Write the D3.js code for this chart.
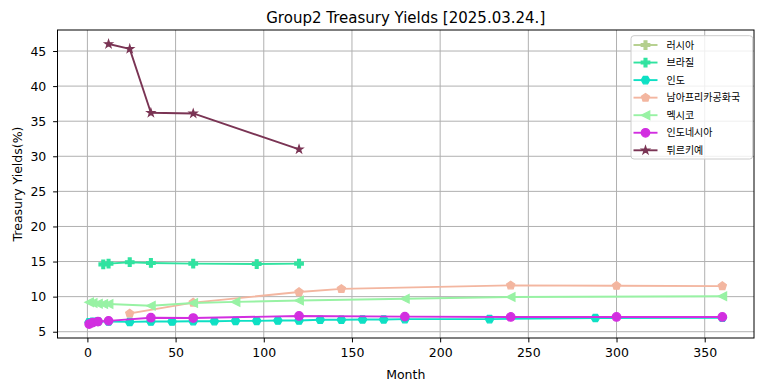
<!DOCTYPE html>
<html>
<head>
<meta charset="utf-8">
<script src="https://cdn.jsdelivr.net/npm/d3@7/dist/d3.min.js"></script>
<style>
  html, body { margin: 0; padding: 0; background: #fff; }
  svg { display: block; }
  text { font-family: "DejaVu Sans", "Noto Sans CJK KR", sans-serif; fill: #000; }
</style>
</head>
<body>
<svg id="chart" width="764" height="391"></svg>
<script>
// ---------------- DATA ----------------
const chartTitle = "Group2 Treasury Yields [2025.03.24.]";
const xLabel = "Month";
const yLabel = "Treasury Yields(%)";

const xTicks = [0, 50, 100, 150, 200, 250, 300, 350];
const yTicks = [5, 10, 15, 20, 25, 30, 35, 40, 45];

const seriesNames = ["러시아", "브라질", "인도", "남아프리카공화국", "멕시코", "인도네시아", "튀르키예"];

const russiaMonths = [];
const russiaYields = [];

const brazilMonths = [9, 12, 24, 36, 60, 96, 120];
const brazilYields = [14.6, 14.7, 14.9, 14.8, 14.7, 14.65, 14.7];

const indiaMonths = [1, 3, 6, 12, 24, 36, 48, 60, 72, 84, 96, 108, 120, 132, 144, 156, 168, 180, 228, 288, 360];
const indiaYields = [6.35, 6.4, 6.45, 6.45, 6.4, 6.45, 6.45, 6.5, 6.5, 6.55, 6.55, 6.6, 6.6, 6.7, 6.7, 6.75, 6.75, 6.8, 6.8, 6.95, 7.0];

const southAfricaMonths = [24, 60, 120, 144, 240, 300, 360];
const southAfricaYields = [7.6, 9.15, 10.65, 11.1, 11.6, 11.55, 11.5];

const mexicoMonths = [1, 3, 6, 9, 12, 36, 60, 84, 120, 180, 240, 360];
const mexicoYields = [9.2, 9.1, 9.0, 8.95, 8.95, 8.7, 9.1, 9.25, 9.45, 9.7, 9.95, 10.05];

const indonesiaMonths = [1, 3, 6, 12, 36, 60, 120, 180, 240, 300, 360];
const indonesiaYields = [6.1, 6.3, 6.45, 6.55, 7.0, 6.95, 7.25, 7.15, 7.1, 7.1, 7.1];

const turkeyMonths = [12, 24, 36, 60, 120];
const turkeyYields = [46.0, 45.3, 36.2, 36.1, 31.0];

const seriesColors = ["#b4cf8c", "#30e3a0", "#0ee0c4", "#f3b6a0", "#98f2a4", "#d22ee0", "#7a3454"];
const seriesMarkers = ["plus", "plus", "hexagon", "pentagon", "triLeft", "circle", "star"];

// ---------------- BUILD ----------------
const series = [
  [russiaMonths, russiaYields],
  [brazilMonths, brazilYields],
  [indiaMonths, indiaYields],
  [southAfricaMonths, southAfricaYields],
  [mexicoMonths, mexicoYields],
  [indonesiaMonths, indonesiaYields],
  [turkeyMonths, turkeyYields]
].map((d, i) => ({
  name: seriesNames[i],
  color: seriesColors[i],
  marker: seriesMarkers[i],
  points: d[0].map((m, j) => ({ x: m, y: d[1][j] }))
}));

const W = 764, H = 391;
const plot = { left: 57.5, right: 754, top: 30, bottom: 338 };

// autoscale with 5% margins like matplotlib
const allX = series.flatMap(s => s.points.map(p => p.x));
const allY = series.flatMap(s => s.points.map(p => p.y));
const [x0, x1] = d3.extent(allX);
const [y0, y1] = d3.extent(allY);
const mx = (x1 - x0) * 0.05, my = (y1 - y0) * 0.05;

const x = d3.scaleLinear().domain([x0 - mx, x1 + mx]).range([plot.left, plot.right]);
const y = d3.scaleLinear().domain([y0 - my, y1 + my]).range([plot.bottom, plot.top]);

const svg = d3.select("#chart");
svg.append("rect").attr("width", W).attr("height", H).attr("fill", "#fff");

// marker shapes (matplotlib style, size = diameter)
const MS = 8.5;
function polyPath(pts) { return "M" + pts.map(p => p[0].toFixed(3) + "," + p[1].toFixed(3)).join("L") + "Z"; }
function regularPoly(n, r, rot) {
  const pts = [];
  for (let k = 0; k < n; k++) {
    const a = rot + k * 2 * Math.PI / n;
    pts.push([r * Math.cos(a), -r * Math.sin(a)]);
  }
  return pts;
}
function markerPath(type, s) {
  const r = s / 2;
  switch (type) {
    case "circle":
      return `M${r},0A${r},${r} 0 1,1 ${-r},0A${r},${r} 0 1,1 ${r},0Z`;
    case "plus": {
      const a = s / 6, b = s / 2;
      return polyPath([[-a,-b],[a,-b],[a,-a],[b,-a],[b,a],[a,a],[a,b],[-a,b],[-a,a],[-b,a],[-b,-a],[-a,-a]]);
    }
    case "hexagon":
      return polyPath(regularPoly(6, r, Math.PI / 2 + Math.PI / 6));
    case "pentagon":
      return polyPath(regularPoly(5, r, Math.PI / 2));
    case "triLeft":
      return polyPath([[-r, 0], [r, -r], [r, r]]);
    case "star": {
      const pts = [];
      const rs = r * 0.95;
      for (let k = 0; k < 10; k++) {
        const rr = k % 2 === 0 ? rs : rs * 0.381966;
        const a = Math.PI / 2 + k * Math.PI / 5;
        pts.push([rr * Math.cos(a), -rr * Math.sin(a)]);
      }
      return polyPath(pts);
    }
  }
}

// grid
const grid = svg.append("g").attr("class", "grid");
grid.selectAll("line.gx").data(xTicks).enter().append("line")
  .attr("x1", d => x(d)).attr("x2", d => x(d))
  .attr("y1", plot.top).attr("y2", plot.bottom)
  .attr("stroke", "#b0b0b0").attr("stroke-width", 1);
grid.selectAll("line.gy").data(yTicks).enter().append("line")
  .attr("y1", d => y(d)).attr("y2", d => y(d))
  .attr("x1", plot.left).attr("x2", plot.right)
  .attr("stroke", "#b0b0b0").attr("stroke-width", 1);

// clip
svg.append("clipPath").attr("id", "clip").append("rect")
  .attr("x", plot.left).attr("y", plot.top)
  .attr("width", plot.right - plot.left).attr("height", plot.bottom - plot.top);

const line = d3.line().x(p => x(p.x)).y(p => y(p.y));
const dataG = svg.append("g").attr("clip-path", "url(#clip)");
series.forEach(s => {
  const g = dataG.append("g");
  if (s.points.length) {
    g.append("path").attr("d", line(s.points))
      .attr("fill", "none").attr("stroke", s.color)
      .attr("stroke-width", 1.9).attr("stroke-linejoin", "round").attr("stroke-linecap", "square");
  }
  g.selectAll("path.m").data(s.points).enter().append("path")
    .attr("d", markerPath(s.marker, MS))
    .attr("transform", p => `translate(${x(p.x)},${y(p.y)})`)
    .attr("fill", s.color).attr("stroke", s.color).attr("stroke-width", 1.25)
    .attr("stroke-linejoin", "miter");
});

// axes
const xAxis = d3.axisBottom(x).tickValues(xTicks).tickSize(4.4).tickPadding(5.8).tickFormat(d3.format("d"));
const yAxis = d3.axisLeft(y).tickValues(yTicks).tickSize(4.4).tickPadding(6.8).tickFormat(d3.format("d"));
const gx = svg.append("g").attr("transform", `translate(0,${plot.bottom})`).call(xAxis);
const gy = svg.append("g").attr("transform", `translate(${plot.left},0)`).call(yAxis);
[gx, gy].forEach(g => {
  g.select(".domain").remove();
  g.selectAll(".tick line").attr("stroke", "#000").attr("stroke-width", 1);
  g.selectAll(".tick text").attr("font-size", "12.5px").attr("font-family", "DejaVu Sans").attr("fill", "#000");
});

// frame
svg.append("rect").attr("x", plot.left).attr("y", plot.top)
  .attr("width", plot.right - plot.left).attr("height", plot.bottom - plot.top)
  .attr("fill", "none").attr("stroke", "#000").attr("stroke-width", 1);

// labels
svg.append("text").attr("x", (plot.left + plot.right) / 2).attr("y", 22.5)
  .attr("text-anchor", "middle").attr("font-size", "15px").text(chartTitle);
svg.append("text").attr("x", (plot.left + plot.right) / 2).attr("y", 378.5)
  .attr("text-anchor", "middle").attr("font-size", "12.5px").text(xLabel);
svg.append("text").attr("transform", `translate(21.5,${(plot.top + plot.bottom) / 2}) rotate(-90)`)
  .attr("text-anchor", "middle").attr("font-size", "12.5px").text(yLabel);

// legend
const lg = svg.append("g");
lg.append("rect").attr("x", 631).attr("y", 35.7).attr("width", 121.7).attr("height", 123.3)
  .attr("rx", 3).attr("fill", "#fff").attr("fill-opacity", 0.8)
  .attr("stroke", "#cccccc").attr("stroke-width", 1);
series.forEach((s, i) => {
  const cy = 45 + i * 17.55;
  lg.append("line").attr("x1", 633.5).attr("x2", 657.5).attr("y1", cy).attr("y2", cy)
    .attr("stroke", s.color).attr("stroke-width", 1.9);
  lg.append("path").attr("d", markerPath(s.marker, MS))
    .attr("transform", `translate(645.5,${cy})`)
    .attr("fill", s.color).attr("stroke", s.color).attr("stroke-width", 1.25);
  lg.append("text").attr("x", 666.5).attr("y", cy).attr("dy", "0.36em")
    .attr("font-size", "10px").attr("font-family", "'Noto Sans CJK KR', 'DejaVu Sans', sans-serif")
    .text(s.name);
});
</script>
</body>
</html>
